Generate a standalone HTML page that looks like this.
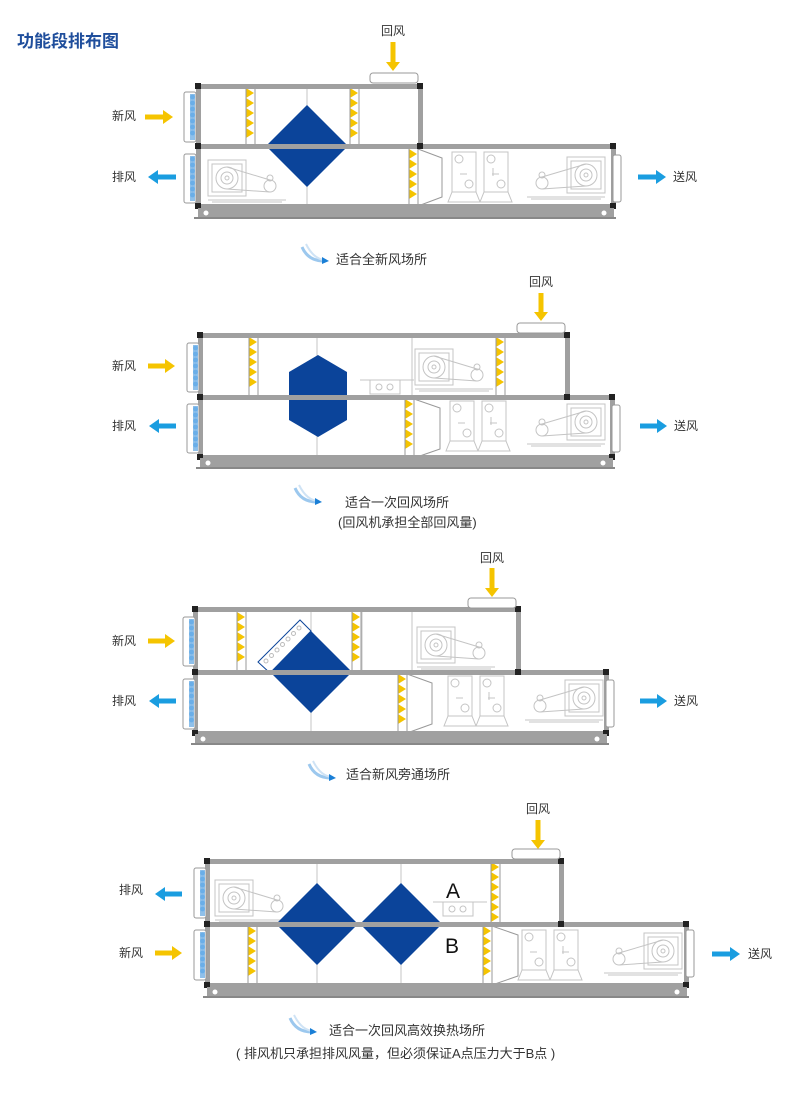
<!DOCTYPE html>
<html><head><meta charset="utf-8"><style>
html,body{margin:0;padding:0;background:#fff;}
svg{display:block}
text{font-family:"Liberation Sans","Noto Sans CJK SC",sans-serif;fill:#333;font-size:12px}
</style></head><body>
<svg id="s" width="800" height="1093" viewBox="0 0 800 1093" xmlns="http://www.w3.org/2000/svg">
<text x="17" y="47" style="font-size:17px;font-weight:bold;fill:#1f4e9c">功能段排布图</text>
<g id="g"></g>
<text x="381" y="35">回风</text>
<text x="112" y="120">新风</text>
<text x="112" y="181">排风</text>
<text x="673" y="181">送风</text>
<text x="336" y="264" style="font-size:13px">适合全新风场所</text>

<text x="529" y="286">回风</text>
<text x="112" y="370">新风</text>
<text x="112" y="430">排风</text>
<text x="674" y="430">送风</text>
<text x="345" y="507" style="font-size:13px">适合一次回风场所</text>
<text x="338" y="527" style="font-size:13px">(回风机承担全部回风量)</text>

<text x="480" y="562">回风</text>
<text x="112" y="645">新风</text>
<text x="112" y="705">排风</text>
<text x="674" y="705">送风</text>
<text x="346" y="779" style="font-size:13px">适合新风旁通场所</text>

<text x="526" y="813">回风</text>
<text x="119" y="894">排风</text>
<text x="119" y="957">新风</text>
<text x="748" y="958">送风</text>
<text x="446" y="898" style="font-size:21px;fill:#111">A</text>
<text x="445" y="953" style="font-size:21px;fill:#111">B</text>
<text x="329" y="1035" style="font-size:13px">适合一次回风高效换热场所</text>
<text x="236" y="1058" style="font-size:13px">( 排风机只承担排风风量，但必须保证A点压力大于B点 )</text>
</svg>
<script>
var o='';
var G='#a0a0a0',L='#c4c4c4',Y='#f5c400',B='#0b449a',AB='#1a9de0';
function r(x,y,w,h,f){o+='<rect x="'+x+'" y="'+y+'" width="'+w+'" height="'+h+'" fill="'+f+'"/>';}
function ln(x1,y1,x2,y2,c,w){o+='<line x1="'+x1+'" y1="'+y1+'" x2="'+x2+'" y2="'+y2+'" stroke="'+(c||L)+'" stroke-width="'+(w||1)+'"/>';}
function pg(p,f,s){o+='<polygon points="'+p+'" fill="'+f+'"'+(s?' stroke="'+s+'"':'')+'/>';}
function ci(x,y,rr,c){o+='<circle cx="'+x+'" cy="'+y+'" r="'+rr+'" fill="none" stroke="'+(c||L)+'"/>';}
function hbar(x1,x2,y){r(x1,y-2,x2-x1,5,G);}
function vbar(x,y1,y2){r(x-2,y1,5,y2-y1,G);}
function blk(x,y){r(x-3,y-3,6,6,'#222');}
function base(x1,x2,y){r(x1,y,x2-x1,9,G);ln(x1-4,y+10,x2+2,y+10,'#888',2);o+='<circle cx="'+(x1+8)+'" cy="'+(y+5)+'" r="2.5" fill="#fff"/><circle cx="'+(x2-10)+'" cy="'+(y+5)+'" r="2.5" fill="#fff"/>';}
function filt(x,y1,y2){r(x,y1,9,y2-y1,'#fff');ln(x+9,y1,x+9,y2,'#999');var n=Math.floor((y2-y1)/10);for(var i=0;i<n;i++){var y=y1+i*10;pg(x+','+y+' '+(x+8)+','+(y+5)+' '+x+','+(y+10),Y);} ln(x,y1,x,y2,'#999');}
function grille(x,y1,y2){o+='<rect x="'+(x-12)+'" y="'+y1+'" width="12" height="'+(y2-y1)+'" fill="#fff" stroke="#999" rx="2"/>';r(x-6,y1+2,5,y2-y1-4,'#8fc0ea');for(var y=y1+5;y<y2-3;y+=6)o+='<circle cx="'+(x-3.5)+'" cy="'+y+'" r="2.4" fill="#6aaee8"/>';}
function dia(cx,cy,h){pg((cx)+','+(cy-h)+' '+(cx+h)+','+cy+' '+cx+','+(cy+h)+' '+(cx-h)+','+cy,B);}
function duct(x1,x2,y){o+='<rect x="'+x1+'" y="'+(y-5)+'" width="'+(x2-x1)+'" height="10" fill="#fff" stroke="#999" rx="3"/>';}
function arrY(x,y1,y2){r(x-2.5,y1,5,y2-y1-8,Y);pg((x-7)+','+(y2-9)+' '+(x+7)+','+(y2-9)+' '+x+','+y2,Y);}
function arrR(x1,x2,y,c){r(x1,y-2.5,x2-x1-9,5,c);pg((x2-10)+','+(y-7)+' '+x2+','+y+' '+(x2-10)+','+(y+7),c);}
function arrL(x1,x2,y,c){r(x1+9,y-2.5,x2-x1-9,5,c);pg((x1+10)+','+(y-7)+' '+x1+','+y+' '+(x1+10)+','+(y+7),c);}
function fan(x,y,fl){
 var hx=fl?x+40:x, mx=fl?x+15:x+62;
 o+='<rect x="'+hx+'" y="'+y+'" width="38" height="36" fill="none" stroke="'+L+'"/>';
 o+='<rect x="'+(hx+4)+'" y="'+(y+4)+'" width="30" height="28" fill="none" stroke="'+L+'"/>';
 ci(hx+19,y+18,11);ci(hx+19,y+18,6);ci(hx+19,y+18,2);ci(mx,y+26,6);ci(mx,y+18,3);
 ln(hx+19,y+7,mx,y+20);ln(hx+19,y+29,mx,y+32);
 ln(x,y+40,x+78,y+40);ln(x+4,y+42,x+74,y+42);}
function coil(x,y){
 for(var k=0;k<2;k++){var cx=x+k*32;o+='<rect x="'+cx+'" y="'+y+'" width="24" height="40" fill="none" stroke="'+L+'"/>';ci(cx+7,y+7,4);ci(cx+17,y+32,4);ln(cx+8,y+22,cx+15,y+22);
 pg((cx-4)+','+(y+50)+' '+(cx)+','+(y+40)+' '+(cx+24)+','+(y+40)+' '+(cx+28)+','+(y+50),'none',L);}
 ln(x+41,y+16,x+41,y+24);}
function cone(x,y1,y2,w){pg(x+','+y1+' '+(x+w)+','+(y1+9)+' '+(x+w)+','+(y2-9)+' '+x+','+y2,'#fff','#999');}
function damper(x,y){o+='<rect x="'+x+'" y="'+y+'" width="30" height="14" fill="none" stroke="'+L+'"/>';ci(x+9,y+7,3);ci(x+20,y+7,3);ln(x-10,y,x+44,y);}
function icon(x,y){o+='<path d="M'+x+','+y+' q6,14 22,14" stroke="#9cc8ee" stroke-width="3" fill="none"/><path d="M'+(x+4)+','+(y-3)+' q8,16 20,16" stroke="#cfe3f5" stroke-width="2" fill="none"/>';pg((x+20)+','+(y+10)+' '+(x+27)+','+(y+14)+' '+(x+20)+','+(y+17),'#1a7fd6');}
function box(ux1,ux2,uy,my,ly,lx2){
 hbar(ux1,ux2,uy);hbar(ux1,lx2,my);hbar(ux1,lx2,ly);vbar(ux1,uy,ly);vbar(ux2,uy,my);vbar(lx2,my,ly);
 blk(ux1,uy);blk(ux2,uy);blk(ux1,my);blk(ux2,my);blk(lx2,my);blk(ux1,ly);blk(lx2,ly);}

ln(307,88,307,206);fan(208,160,0);coil(452,152);fan(527,157,1);
filt(246,88,144);filt(350,88,144);filt(409,149,206);cone(418,149,206,24);
dia(307,146,41);
box(198,420,86,146,206,613);base(198,614,208);
grille(196,92,142);grille(196,154,203);
o+='<rect x="613" y="155" width="8" height="47" fill="#fff" stroke="#999" rx="2"/>';
duct(370,418,78);arrY(393,42,71);arrR(145,173,117,Y);arrL(148,176,177,AB);arrR(638,666,177,AB);
icon(302,247);

ln(317,337,317,458);ln(412,337,412,395);fan(415,349,0);damper(370,380);coil(450,401);fan(527,404,1);
filt(249,337,395);filt(496,337,395);filt(405,399,458);cone(414,399,458,26);
pg('318,355 347,372 347,420 318,437 289,420 289,372',B);
box(200,567,335,397,457,612);base(200,613,458);
grille(199,343,392);grille(199,404,453);
o+='<rect x="612" y="405" width="8" height="47" fill="#fff" stroke="#999" rx="2"/>';
duct(517,565,328);arrY(541,293,321);arrR(148,175,366,Y);arrL(149,176,426,AB);arrR(640,667,426,AB);
icon(295,488);

ln(311,612,311,733);ln(362,612,362,670);ln(412,612,412,670);fan(417,627,0);coil(448,676);fan(525,680,1);
filt(237,612,670);filt(352,612,670);filt(398,674,733);cone(407,674,733,25);
dia(311,672,41);
pg('258,662 300,620 311,631 270,673','#fff',B);
for(var i=0;i<7;i++)ci(266+i*5.5,661-i*5.5,2,'#bbb');
box(195,518,609,672,733,606);base(195,607,734);
grille(195,617,666);grille(195,679,729);
o+='<rect x="606" y="680" width="8" height="47" fill="#fff" stroke="#999" rx="2"/>';
duct(468,516,603);arrY(492,568,597);arrR(148,175,641,Y);arrL(149,176,701,AB);arrR(640,667,701,AB);
icon(309,764);

ln(317,862,317,985);ln(401,862,401,985);fan(215,880,0);damper(443,902);coil(522,930);fan(604,933,1);
filt(491,862,922);filt(248,926,985);filt(483,926,985);cone(492,926,985,26);
dia(317,924,41);dia(401,924,41);
box(207,561,861,924,985,686);base(207,687,987);
grille(206,868,918);grille(206,930,980);
o+='<rect x="686" y="930" width="8" height="47" fill="#fff" stroke="#999" rx="2"/>';
duct(512,560,854);arrY(538,820,849);arrL(155,182,894,AB);arrR(155,182,953,Y);arrR(712,740,954,AB);
icon(290,1018);
document.getElementById('g').innerHTML=o;
</script>
</body></html>
